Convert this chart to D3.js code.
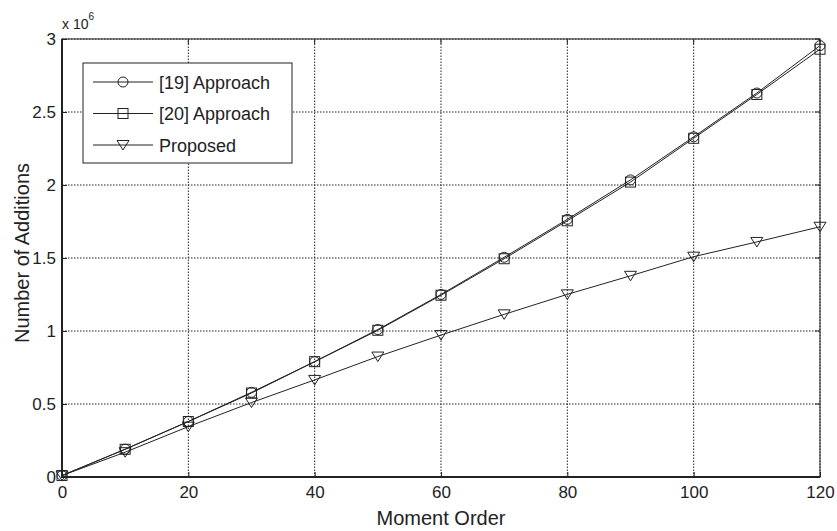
<!DOCTYPE html>
<html>
<head>
<meta charset="utf-8">
<script src="https://cdn.jsdelivr.net/npm/d3@7"></script>
<style>
    body { margin: 0; background: #fff; }
    text { font-family: "Liberation Sans", Arial, sans-serif; fill: #222; }
</style>
</head>
<body>
<div id="chart"></div>
<script>
// moment orders
var orders = [0, 10, 20, 30, 40, 50, 60, 70, 80, 90, 100, 110, 120];
// number of additions, in units of 10^6
var approach19 = [0.01, 0.19, 0.38, 0.58, 0.79, 1.01, 1.25, 1.505, 1.765, 2.035, 2.33, 2.63, 2.955];
var approach20 = [0.01, 0.19, 0.38, 0.575, 0.79, 1.005, 1.245, 1.495, 1.755, 2.02, 2.32, 2.62, 2.93];
var proposed = [0.01, 0.17, 0.345, 0.51, 0.665, 0.825, 0.972, 1.114, 1.251, 1.378, 1.509, 1.61, 1.714];
var xTicks = [0, 20, 40, 60, 80, 100, 120];
var yTicks = [0, 0.5, 1, 1.5, 2, 2.5, 3];
var seriesNames = ["[19] Approach", "[20] Approach", "Proposed"];

var width = 837, height = 531;
var margin = { left: 62, right: 17, top: 39, bottom: 54 };
var ink = "#222";

var svg = d3.select("#chart").append("svg")
    .attr("width", width)
    .attr("height", height);

var x = d3.scaleLinear().domain([0, 120]).range([margin.left, width - margin.right]);
var y = d3.scaleLinear().domain([0, 3]).range([height - margin.bottom, margin.top]);

// dotted grid
var grid = svg.append("g");
xTicks.forEach(function (t) {
    grid.append("line")
        .attr("x1", x(t)).attr("x2", x(t))
        .attr("y1", y(0)).attr("y2", y(3))
        .attr("stroke", ink).attr("stroke-width", 1)
        .attr("stroke-dasharray", "1.5,1.5");
});
yTicks.forEach(function (t) {
    grid.append("line")
        .attr("x1", x(0)).attr("x2", x(120))
        .attr("y1", y(t)).attr("y2", y(t))
        .attr("stroke", ink).attr("stroke-width", 1)
        .attr("stroke-dasharray", "1.5,1.5");
});

// axes
var xAxis = d3.axisBottom(x).tickValues(xTicks).tickSize(-5).tickPadding(9).tickFormat(d3.format("d"));
var yAxis = d3.axisLeft(y).tickValues(yTicks).tickSize(-5).tickPadding(6).tickFormat(function (d) { return String(d); });

var gx = svg.append("g").attr("transform", "translate(0," + y(0) + ")").call(xAxis);
var gy = svg.append("g").attr("transform", "translate(" + x(0) + ",0)").call(yAxis);
[gx, gy].forEach(function (g) {
    g.select(".domain").remove();
    g.selectAll(".tick line").attr("stroke", ink);
    g.selectAll(".tick text").style("font-size", "17px").attr("fill", ink)
        .style("font-family", "'Liberation Sans', Arial, sans-serif");
});

// top and right axes ticks
xTicks.forEach(function (t) {
    svg.append("line").attr("x1", x(t)).attr("x2", x(t)).attr("y1", y(3)).attr("y2", y(3) + 5).attr("stroke", ink);
});
yTicks.forEach(function (t) {
    svg.append("line").attr("x1", x(120)).attr("x2", x(120) - 5).attr("y1", y(t)).attr("y2", y(t)).attr("stroke", ink);
});

// box
svg.append("rect")
    .attr("x", x(0)).attr("y", y(3))
    .attr("width", x(120) - x(0)).attr("height", y(0) - y(3))
    .attr("fill", "none").attr("stroke", ink).attr("stroke-width", 1);
svg.append("path")
    .attr("d", "M" + x(0) + "," + y(3) + " V" + y(0) + " H" + x(120))
    .attr("fill", "none").attr("stroke", ink).attr("stroke-width", 2);

// exponent label
var expo = svg.append("text").attr("x", x(0)).attr("y", 29).style("font-size", "14px");
expo.append("tspan").text("x 10");
expo.append("tspan").attr("dy", -9).style("font-size", "10px").text("6");

// axis titles
svg.append("text")
    .attr("x", (x(0) + x(120)) / 2).attr("y", 525)
    .attr("text-anchor", "middle").style("font-size", "20px")
    .text("Moment Order");
svg.append("text")
    .attr("transform", "translate(29," + (y(1.5) - 5) + ") rotate(-90)")
    .attr("text-anchor", "middle").style("font-size", "20px")
    .text("Number of Additions");

// markers
var drawMarker = function (g, kind, cx, cy) {
    if (kind == "circle") {
        g.append("circle").attr("cx", cx).attr("cy", cy).attr("r", 5)
            .attr("fill", "none").attr("stroke", ink).attr("stroke-width", 1);
    } else if (kind == "square") {
        g.append("rect").attr("x", cx - 5).attr("y", cy - 5).attr("width", 10).attr("height", 10)
            .attr("fill", "none").attr("stroke", ink).attr("stroke-width", 1);
    } else {
        g.append("path")
            .attr("d", "M" + (cx - 6) + "," + (cy - 4.5) + " L" + (cx + 6) + "," + (cy - 4.5) + " L" + cx + "," + (cy + 5) + " Z")
            .attr("fill", "none").attr("stroke", ink).attr("stroke-width", 1);
    }
};

var series = [
    { name: seriesNames[0], values: approach19, marker: "circle" },
    { name: seriesNames[1], values: approach20, marker: "square" },
    { name: seriesNames[2], values: proposed, marker: "triangle" }
];

var line = d3.line()
    .x(function (d, i) { return x(orders[i]); })
    .y(function (d) { return y(d); });

series.forEach(function (s) {
    var g = svg.append("g");
    g.append("path").datum(s.values)
        .attr("d", line)
        .attr("fill", "none").attr("stroke", ink).attr("stroke-width", 1);
    s.values.forEach(function (v, i) {
        drawMarker(g, s.marker, x(orders[i]), y(v));
    });
});

// legend
var legend = svg.append("g");
legend.append("rect")
    .attr("x", 83).attr("y", 63).attr("width", 209).attr("height", 100)
    .attr("fill", "#fff").attr("stroke", ink).attr("stroke-width", 1);
series.forEach(function (s, i) {
    var ly = 82 + i * 31.5;
    legend.append("line")
        .attr("x1", 93).attr("x2", 153).attr("y1", ly).attr("y2", ly)
        .attr("stroke", ink).attr("stroke-width", 1);
    drawMarker(legend, s.marker, 123, ly);
    legend.append("text")
        .attr("x", 159).attr("y", ly + 6.5)
        .style("font-size", "18px")
        .text(s.name);
});
</script>
</body>
</html>
